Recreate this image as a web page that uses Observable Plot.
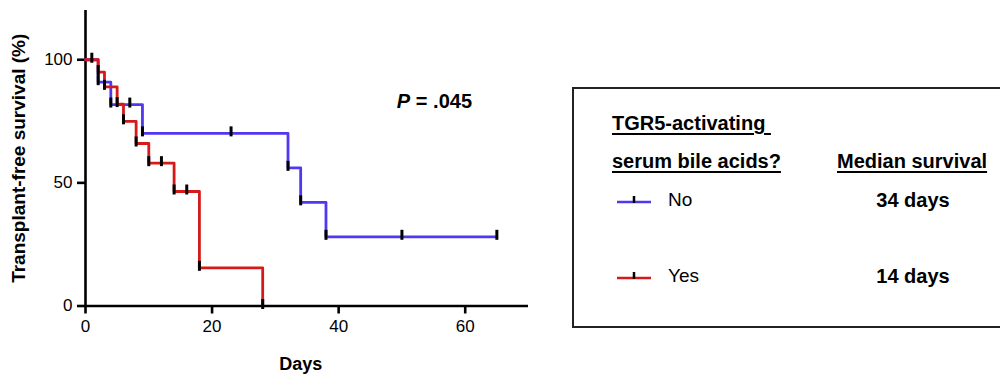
<!DOCTYPE html>
<html><head><meta charset="utf-8">
<script src="https://cdn.jsdelivr.net/npm/d3@7"></script>
<script src="https://cdn.jsdelivr.net/npm/@observablehq/plot@0.6"></script>
<style>
body{margin:0;background:#fff;}
#wrap{position:relative;width:1000px;height:379px;overflow:hidden;font-family:"Liberation Sans",Arial,Helvetica,sans-serif;color:#000;}
#legend{position:absolute;left:572px;top:87px;width:460px;height:241px;border:2px solid #222;box-sizing:border-box;}
.lt{position:absolute;line-height:22px;font-size:20px;white-space:pre;}
.hd{font-weight:bold;text-decoration:underline;text-decoration-thickness:2px;text-underline-offset:3px;}
.b{font-weight:bold;}
</style></head>
<body>
<div id="wrap"></div>
<script>
// Group "No" (TGR5-activating serum bile acids absent)
const noTimes = [0, 2, 4, 9, 32, 34, 38, 65];
const noSurv  = [100, 90.9, 81.8, 70.1, 56.1, 42.1, 28.1, 28.1];
const noCensorTimes = [1, 7, 23, 50, 65];
const noCensorSurv  = [100, 81.8, 70.1, 28.1, 28.1];
// Group "Yes"
const yesTimes = [0, 2, 3, 5, 6, 8, 10, 14, 18, 28];
const yesSurv  = [100, 95, 89, 82, 75, 66, 58, 46.5, 15.5, 0];
const yesCensorTimes = [12, 16];
const yesCensorSurv  = [58, 46.5];
// Axis ticks
const xTicks = [0, 20, 40, 60];
const yTicks = [0, 50, 100];
// Legend
const groups = ["No", "Yes"];
const medians = ["34 days", "14 days"];
const pText = ".045";

const blue = "#5038f0";
const red = "#d41a1a";

const noData = noTimes.map((t, i) => ({t, s: noSurv[i]}));
const yesData = yesTimes.map((t, i) => ({t, s: yesSurv[i]}));
const tickData = [
  ...noData.slice(1, -1),
  ...yesData.slice(1),
  ...noCensorTimes.map((t, i) => ({t, s: noCensorSurv[i]})),
  ...yesCensorTimes.map((t, i) => ({t, s: yesCensorSurv[i]}))
];

const tickSym = {draw(ctx) { ctx.moveTo(0, -7); ctx.lineTo(0, 3); }};

const chart = Plot.plot({
  width: 1000, height: 379,
  marginLeft: 85, marginRight: 472, marginTop: 10, marginBottom: 73.5,
  x: {domain: [0, 70]},
  y: {domain: [0, 120]},
  style: {fontFamily: '"Liberation Sans", Arial, Helvetica, sans-serif', fontSize: "17px", color: "#000", background: "transparent"},
  marks: [
    Plot.axisY({ticks: yTicks, tickSize: 8, tickPadding: 5, label: null, strokeWidth: 2.6, fontSize: 17}),
    Plot.axisX({ticks: xTicks, tickSize: 8, tickPadding: 6, label: null, strokeWidth: 2.6, fontSize: 17}),
    Plot.ruleX([0], {stroke: "#000", strokeWidth: 2.6}),
    Plot.ruleY([0], {stroke: "#000", strokeWidth: 2.6}),
    Plot.line(noData, {x: "t", y: "s", curve: "step-after", stroke: blue, strokeWidth: 2.8}),
    Plot.line(yesData, {x: "t", y: "s", curve: "step-after", stroke: red, strokeWidth: 2.8}),
    Plot.dot(tickData, {x: "t", y: "s", symbol: tickSym, stroke: "#000", fill: "none", strokeWidth: 3}),
    Plot.text(["Days"], {x: () => 34, frameAnchor: "bottom", dy: 64, text: d => d, fontWeight: "bold", fontSize: 18}),
    Plot.text(["Transplant-free survival (%)"], {y: () => 60, frameAnchor: "left", dx: -67, rotate: -90, text: d => d, textAnchor: "middle", fontWeight: "bold", fontSize: 19}),
    Plot.text(["P"], {x: () => 49.2, y: () => 83, text: d => d, textAnchor: "start", fontStyle: "italic", fontWeight: "bold", fontSize: 20}),
    Plot.text(["= " + pText], {x: () => 49.2, y: () => 83, dx: 19, text: d => d, textAnchor: "start", fontWeight: "bold", fontSize: 20})
  ]
});
const wrap = document.getElementById("wrap");
wrap.appendChild(chart);

const leg = document.createElement("div");
leg.id = "legend";
wrap.appendChild(leg);

function addText(txt, left, cy, cls, extra) {
  const d = document.createElement("div");
  d.className = "lt " + (cls || "");
  d.textContent = txt;
  d.style.left = left + "px";
  d.style.top = (cy - 11) + "px";
  if (extra) Object.assign(d.style, extra);
  wrap.appendChild(d);
  return d;
}
addText("TGR5-activating ", 612, 123, "hd");
addText("serum bile acids?", 612, 161, "hd");
addText("Median survival", 837, 161, "hd");

const rowsY = [201, 277];
const cols = [blue, red];
groups.forEach((g, i) => {
  const svg = d3.create("svg").attr("width", 36).attr("height", 16)
    .style("position", "absolute").style("left", "617px").style("top", (rowsY[i] - 9) + "px");
  svg.append("line").attr("x1", 0).attr("x2", 34).attr("y1", 10).attr("y2", 10).attr("stroke", cols[i]).attr("stroke-width", 2.6);
  svg.append("line").attr("x1", 17).attr("x2", 17).attr("y1", 4).attr("y2", 11).attr("stroke", "#000").attr("stroke-width", 2.5);
  wrap.appendChild(svg.node());
  addText(g, 668, rowsY[i] - 1, "", {fontSize: "19px"});
  addText(medians[i], 853, rowsY[i] - 1, "b", {width: "120px", textAlign: "center"});
});
</script>
</body></html>
